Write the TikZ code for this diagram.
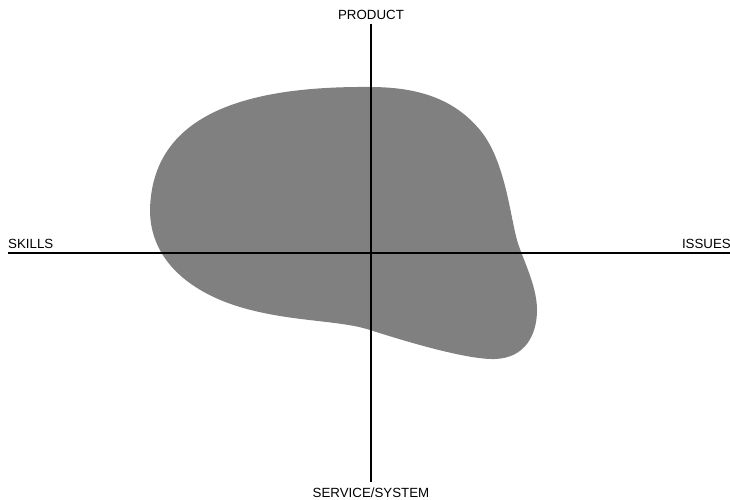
\documentclass[tikz,border=0pt]{standalone}
\usepackage{fontspec}
\setmainfont{Liberation Sans}
\begin{document}
\begin{tikzpicture}[x=1pt,y=-1pt,
  axis/.style={line width=2.7pt,black},
  lab/.style={font=\fontsize{13.3}{15}\selectfont,inner sep=0pt},
  blob/.style={fill=black!50}]
\useasboundingbox (0,0) rectangle (730,500);
\fill[blob] (370,87)
  .. controls (250,86) and (152,112) .. (150,210)
  .. controls (150,260) and (190,292) .. (240,307)
  .. controls (290,322) and (340,320) .. (370,330)
  .. controls (395,338) and (465,360) .. (495,359)
  .. controls (525,358) and (537,335) .. (537,310)
  .. controls (537,285) and (522,258) .. (517,240)
  .. controls (510,215) and (505,160) .. (480,130)
  .. controls (455,100) and (420,87) .. (370,87) -- cycle;
\coordinate (T) at (371,24);
\coordinate (B) at (371,482);
\coordinate (L) at (8,253);
\coordinate (R) at (730,253);
\draw[axis] (T) -- (B);
\draw[axis] (L) -- (R);
\node[lab,anchor=base] (p) at (371,20) {PRODUCT};
\node[lab,anchor=base west] (s) at (8,248) {SKILLS};
\node[lab,anchor=base east] (i) at (731,248) {ISSUES};
\node[lab,anchor=base] (ss) at (371,497) {SERVICE/SYSTEM};
\end{tikzpicture}
\end{document}
